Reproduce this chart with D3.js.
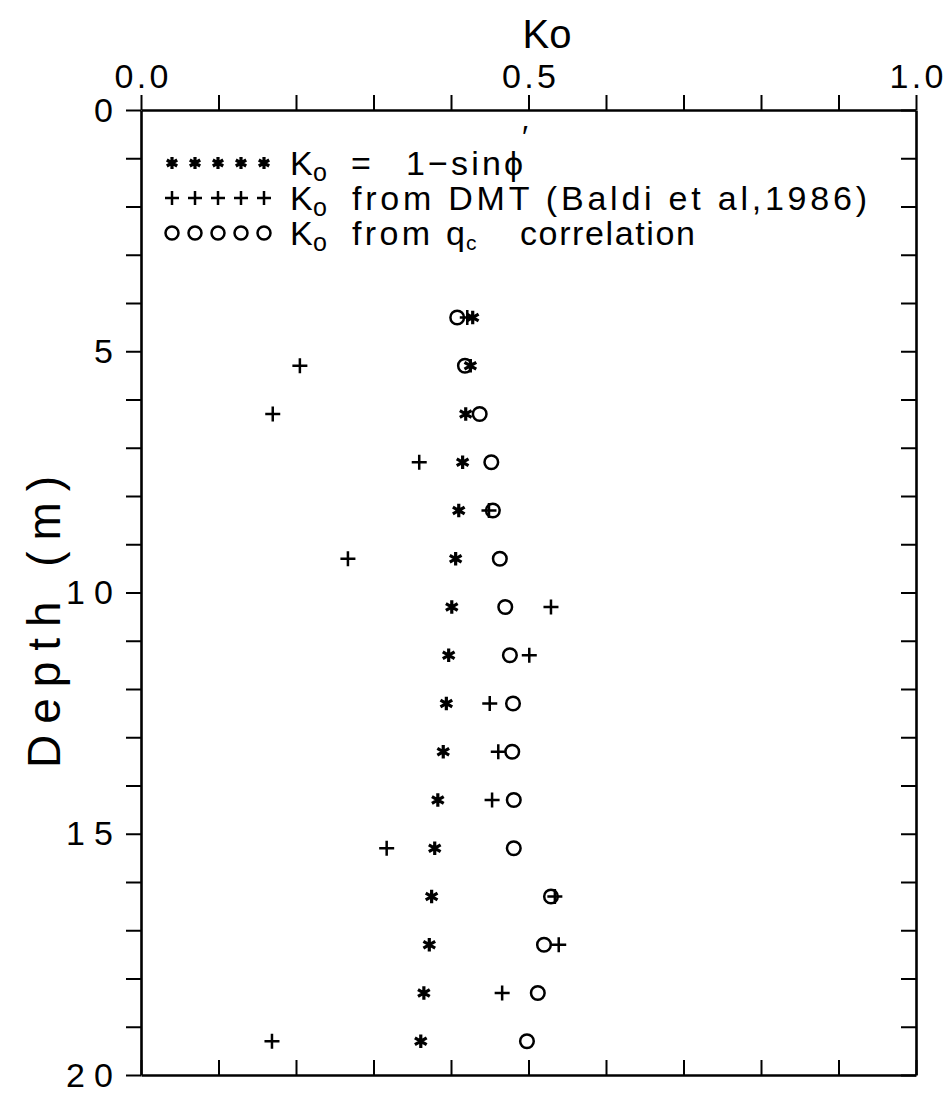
<!DOCTYPE html>
<html>
<head>
<meta charset="utf-8">
<script src="https://cdn.jsdelivr.net/npm/d3@7"></script>
<style>
  body { margin: 0; background: #fff; }
  svg { display: block; }
  text { font-family: "Liberation Sans", Arial, sans-serif; fill: #000; }
</style>
</head>
<body>
<svg id="chart" width="943" height="1093"></svg>
<script>
// ---- data ----
const depths = [4.3, 5.3, 6.3, 7.3, 8.3, 9.3, 10.3, 11.3, 12.3, 13.3, 14.3, 15.3, 16.3, 17.3, 18.3, 19.3];
const koSin  = [0.428, 0.425, 0.419, 0.415, 0.410, 0.406, 0.401, 0.397, 0.394, 0.390, 0.383, 0.379, 0.375, 0.372, 0.365, 0.361];
const koDMT  = [0.421, 0.205, 0.170, 0.359, 0.449, 0.267, 0.529, 0.501, 0.450, 0.461, 0.453, 0.317, 0.534, 0.539, 0.466, 0.169];
const koQc   = [0.408, 0.418, 0.437, 0.452, 0.454, 0.463, 0.470, 0.476, 0.480, 0.479, 0.481, 0.481, 0.529, 0.520, 0.512, 0.498];
const xTicks = [0, 0.1, 0.2, 0.3, 0.4, 0.5, 0.6, 0.7, 0.8, 0.9, 1.0];
const xTickLabels = {"0": "0.0", "0.5": "0.5", "1": "1.0"};
const yTicks = d3.range(0, 21);
const yTickLabels = [0, 5, 10, 15, 20];

(function () {
const svg = d3.select("#chart");
const mLeft = 141, mRight = 916, mTop = 110, mBottom = 1075;
const x = d3.scaleLinear().domain([0, 1]).range([mLeft, mRight]);
const y = d3.scaleLinear().domain([0, 20]).range([mTop, mBottom]);

// ---- axes ----
const axTop = svg.append("g").attr("transform", `translate(0,${mTop})`)
  .call(d3.axisTop(x).tickValues(xTicks).tickSize(15).tickSizeOuter(0).tickPadding(7)
    .tickFormat(d => xTickLabels[String(+d.toFixed(1))] || ""));
const axBottom = svg.append("g").attr("transform", `translate(0,${mBottom})`)
  .call(d3.axisBottom(x).tickValues(xTicks).tickSize(-15).tickSizeOuter(0).tickFormat(""));
const axLeft = svg.append("g").attr("transform", `translate(${mLeft},0)`)
  .call(d3.axisLeft(y).tickValues(yTicks).tickSize(15).tickSizeOuter(0).tickPadding(13)
    .tickFormat(d => yTickLabels.includes(d) ? String(d) : ""));
const axRight = svg.append("g").attr("transform", `translate(${mRight},0)`)
  .call(d3.axisRight(y).tickValues(yTicks).tickSize(-15).tickSizeOuter(0).tickFormat(""));

[axTop, axBottom, axLeft, axRight].forEach(g => {
  g.attr("font-size", 34).attr("font-family", "Liberation Sans, Arial, sans-serif");
  g.select(".domain").attr("stroke", "#000").attr("stroke-width", 2.6);
  g.selectAll(".tick line").attr("stroke", "#000").attr("stroke-width", 2);
  g.selectAll(".tick text").attr("font-size", 34).attr("fill", "#000");
});
axTop.selectAll(".tick text").filter(function(){ return this.textContent !== ""; })
  .attr("textLength", 54).attr("lengthAdjust", "spacing");
axLeft.selectAll(".tick text").filter(function(){ return this.textContent.length === 2; })
  .attr("textLength", 47).attr("lengthAdjust", "spacing");
axLeft.selectAll(".tick text").attr("dy", "0.33em");

// ---- titles ----
svg.append("text").attr("x", 547).attr("y", 48).attr("text-anchor", "middle")
  .attr("font-size", 40).text("Ko");
svg.append("text").attr("transform", "translate(60,622) rotate(-90)")
  .attr("text-anchor", "middle").attr("font-size", 46)
  .attr("textLength", 292).attr("lengthAdjust", "spacing").text("Depth (m)");

// ---- marker painters ----
function drawStar(g, cx, cy, r) {
  const p = d3.path();
  for (const a of [90, 30, 150]) {
    const t = a * Math.PI / 180;
    p.moveTo(cx + r * Math.cos(t), cy - r * Math.sin(t));
    p.lineTo(cx - r * Math.cos(t), cy + r * Math.sin(t));
  }
  g.append("path").attr("d", p.toString()).attr("stroke", "#000").attr("stroke-width", 3.2).attr("fill", "none");
}
function drawPlus(g, cx, cy, r) {
  const p = d3.path();
  p.moveTo(cx - r, cy); p.lineTo(cx + r, cy);
  p.moveTo(cx, cy - r); p.lineTo(cx, cy + r);
  g.append("path").attr("d", p.toString()).attr("stroke", "#000").attr("stroke-width", 2.5).attr("fill", "none");
}
function drawCircle(g, cx, cy, r) {
  g.append("circle").attr("cx", cx).attr("cy", cy).attr("r", r)
    .attr("stroke", "#000").attr("stroke-width", 2.5).attr("fill", "none");
}

// ---- data marks ----
const marks = svg.append("g");
depths.forEach((d, i) => {
  drawCircle(marks, x(koQc[i]), y(d), 6.8);
  drawPlus(marks, x(koDMT[i]), y(d), 7.5);
  drawStar(marks, x(koSin[i]), y(d), 6.8);
});

// ---- legend ----
const leg = svg.append("g");
const legX = d3.range(5).map(k => 172 + k * 23);
legX.forEach(lx => {
  drawStar(leg, lx, 163, 6);
  drawPlus(leg, lx, 198, 7);
  drawCircle(leg, lx, 233, 6.5);
});
const fs = 34;
// line 1
leg.append("text").attr("x", 290).attr("y", 175).attr("font-size", fs).text("K");
leg.append("text").attr("x", 313).attr("y", 181).attr("font-size", 25).text("o");
leg.append("text").attr("x", 351).attr("y", 175).attr("font-size", fs).text("=");
leg.append("text").attr("x", 406).attr("y", 175).attr("font-size", fs)
  .attr("textLength", 117).attr("lengthAdjust", "spacing").text("1\u2212sin\u03D5");
leg.append("text").attr("x", 522).attr("y", 148).attr("font-size", 32).text("\u2032");
// line 2
leg.append("text").attr("x", 290).attr("y", 210).attr("font-size", fs).text("K");
leg.append("text").attr("x", 313).attr("y", 216).attr("font-size", 25).text("o");
leg.append("text").attr("x", 352).attr("y", 210).attr("font-size", fs)
  .attr("textLength", 515).attr("lengthAdjust", "spacing").text("from DMT (Baldi et al,1986)");
// line 3
leg.append("text").attr("x", 290).attr("y", 245).attr("font-size", fs).text("K");
leg.append("text").attr("x", 313).attr("y", 251).attr("font-size", 25).text("o");
leg.append("text").attr("x", 352).attr("y", 245).attr("font-size", fs)
  .attr("textLength", 78).attr("lengthAdjust", "spacing").text("from");
leg.append("text").attr("x", 446).attr("y", 245).attr("font-size", fs).text("q");
leg.append("text").attr("x", 466).attr("y", 250).attr("font-size", 21).text("c");
leg.append("text").attr("x", 520).attr("y", 245).attr("font-size", fs)
  .attr("textLength", 175).attr("lengthAdjust", "spacing").text("correlation");
})();
</script>
</body>
</html>
